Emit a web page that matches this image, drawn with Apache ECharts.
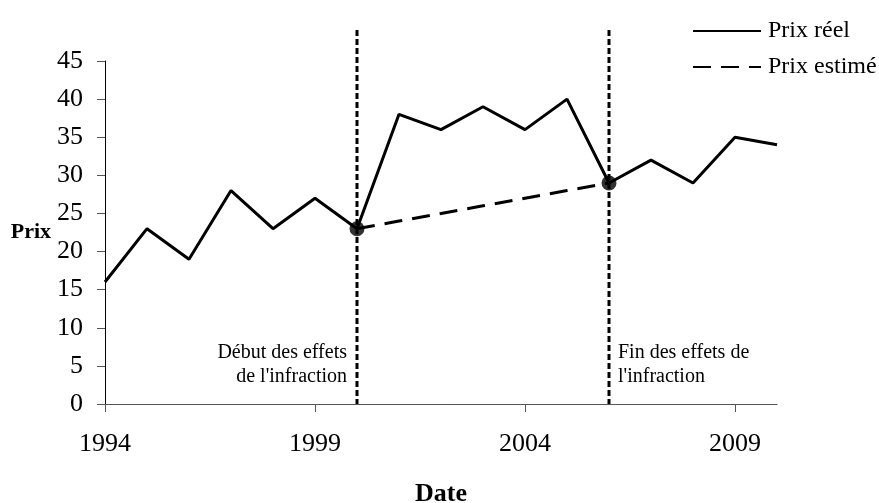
<!DOCTYPE html>
<html><head><meta charset="utf-8">
<script src="https://cdn.jsdelivr.net/npm/echarts@6/dist/echarts.min.js"></script>
<style>html,body{margin:0;padding:0;background:#fff}#c{width:879px;height:503px}</style>
</head><body><div id="c"></div>
<script>
const years = [1994,1995,1996,1997,1998,1999,2000,2001,2002,2003,2004,2005,2006,2007,2008,2009,2010];
const prixReel = [16,23,19,28,23,27,23,38,36,39,36,40,29,32,29,35,34];
const estYears = [2000,2001,2002,2003,2004,2005,2006];
const prixEstime = [23,24,25,26,27,28,29];
const markYears = [2000,2006];
const markValues = [23,29];
const xTicks = [1994,1999,2004,2009];
const annotStart = ["Début des effets", "de l'infraction"];
const annotEnd = ["Fin des effets de", "l'infraction"];

const F = 'Liberation Serif, Times New Roman, serif';
const chart = echarts.init(document.getElementById('c'));
const option = {
  animation:false,
  grid:{left:105,right:102,top:61,bottom:99,containLabel:false,outerBoundsMode:'none'},
  legend:{
    orient:'vertical', left:692, top:19, padding:0, itemWidth:68, itemHeight:26, itemGap:12,
    data:['Prix réel','Prix estimé'],
    itemStyle:{opacity:0},
    textStyle:{fontFamily:F,fontSize:24,color:'#000',padding:[0,0,0,2]}
  },
  xAxis:{
    type:'value', min:1994, max:2010, interval:5,
    name:'Date', nameLocation:'middle', nameGap:77,
    nameTextStyle:{fontFamily:F,fontSize:26,fontWeight:'bold',color:'#000'},
    axisLine:{lineStyle:{color:'#555',width:1}},
    axisTick:{show:true,length:8,lineStyle:{color:'#555'},customValues:xTicks},
    axisLabel:{fontFamily:F,fontSize:26,color:'#000',margin:27,customValues:xTicks,formatter:v=>String(v)},
    splitLine:{show:false}
  },
  yAxis:{
    type:'value', min:0, max:45, interval:5,
    name:'Prix', nameLocation:'middle', nameGap:52, nameRotate:0,
    nameTextStyle:{fontFamily:F,fontSize:22,fontWeight:'bold',color:'#000'},
    axisLine:{show:true,lineStyle:{color:'#000',width:1}},
    axisTick:{show:true,length:8,lineStyle:{color:'#555'}},
    axisLabel:{fontFamily:F,fontSize:26,color:'#000',margin:22},
    splitLine:{show:false}
  },
  series:[
    {name:'Prix réel',type:'line',symbol:'none',
     data:years.map((y,i)=>[y,prixReel[i]]),
     lineStyle:{color:'#000',width:3},itemStyle:{color:'#000'}, z:3},
    {name:'Prix estimé',type:'line',symbol:'none',
     data:estYears.map((y,i)=>[y,prixEstime[i]]),
     lineStyle:{color:'#000',width:3,type:[18,10]},itemStyle:{color:'#000'}, z:3},
    {name:'points',type:'scatter',symbolSize:15,
     data:markYears.map((y,i)=>[y,markValues[i]]),
     itemStyle:{color:'#000'}, z:5}
  ]
};
chart.setOption(option);

function draw(){
  const g = [];
  const yBottom = chart.convertToPixel({yAxisIndex:0},0);
  markYears.forEach(yr=>{
    const x = chart.convertToPixel({xAxisIndex:0},yr);
    g.push({type:'line',shape:{x1:x,y1:30,x2:x,y2:yBottom},
      style:{stroke:'#000',lineWidth:3,lineDash:[6,3]},z:2});
  });
  const x1 = chart.convertToPixel({xAxisIndex:0},markYears[0]);
  const x2 = chart.convertToPixel({xAxisIndex:0},markYears[1]);
  g.push({type:'text',x:x1-10,y:365,style:{text:annotStart.join('\n'),font:'20px '+F,fill:'#000',align:'right',verticalAlign:'middle',lineHeight:24}});
  g.push({type:'text',x:x2+9,y:365,style:{text:annotEnd.join('\n'),font:'20px '+F,fill:'#000',align:'left',verticalAlign:'middle',lineHeight:24}});
  chart.setOption({graphic:g});
}
draw();
</script></body></html>
